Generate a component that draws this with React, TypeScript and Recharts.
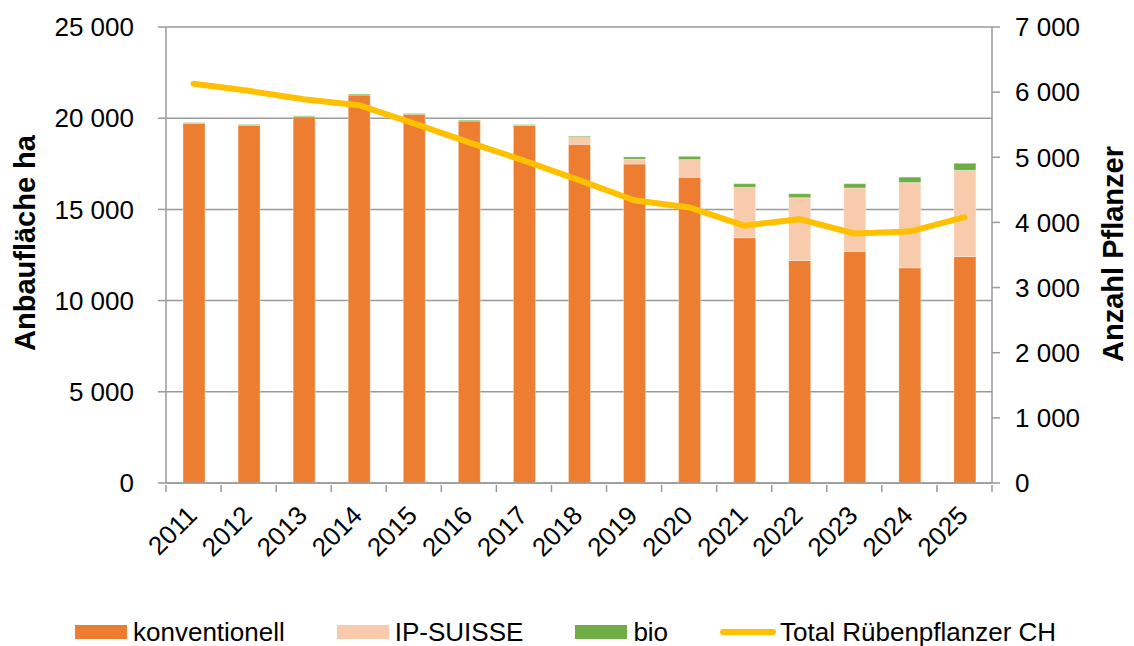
import React from "react";
import {
  ComposedChart,
  Bar,
  Line,
  XAxis,
  YAxis,
  CartesianGrid,
} from "recharts";

// Anbaufläche Zuckerrüben CH (ha) und Anzahl Pflanzer
const years = ["2011", "2012", "2013", "2014", "2015", "2016", "2017", "2018", "2019", "2020", "2021", "2022", "2023", "2024", "2025"];
const konventionell = [19710, 19600, 20080, 21270, 20210, 19840, 19600, 18570, 17490, 16760, 13450, 12200, 12690, 11800, 12420];
const ipSuisse = [0, 0, 0, 0, 0, 0, 0, 370, 260, 970, 2760, 3440, 3480, 4670, 4720];
const bio = [50, 50, 50, 50, 50, 50, 50, 70, 130, 180, 200, 220, 240, 300, 390];
const pflanzer = [6130, 6020, 5890, 5800, 5520, 5230, 4950, 4650, 4340, 4230, 3950, 4050, 3830, 3860, 4080];

const leftTicks = [0, 5000, 10000, 15000, 20000, 25000];
const rightTicks = [0, 1000, 2000, 3000, 4000, 5000, 6000, 7000];

const COLORS = {
  konv: "#ED7D31",
  ip: "#F8CBAD",
  bio: "#70AD47",
  line: "#FFC000",
  axis: "#9a9a9a",
};

const FONT = "'Liberation Sans', Arial, sans-serif";
const W = 1134;
const H = 646;
const LEFT_W = 166;
const RIGHT_W = 142;
const STEP = (W - LEFT_W - RIGHT_W) / years.length;

const data = years.map((y, i) => ({
  year: y,
  konv: konventionell[i],
  ip: ipSuisse[i],
  bio: bio[i],
  total: pflanzer[i],
}));

// Tausender mit Leerzeichen: 25 000
const fmt = (v: number) => String(v).replace(/\B(?=(\d{3})+(?!\d))/g, " ");

function YearTick({ x, y, payload, index }: any) {
  const last = index === years.length - 1;
  return (
    <g>
      <line x1={x - STEP / 2} y1={y} x2={x - STEP / 2} y2={y + 7} stroke={COLORS.axis} strokeWidth={1.5} />
      {last && <line x1={x + STEP / 2} y1={y} x2={x + STEP / 2} y2={y + 7} stroke={COLORS.axis} strokeWidth={1.5} />}
      <text
        x={x + 5}
        y={y + 32}
        transform={`rotate(-45, ${x + 5}, ${y + 32})`}
        textAnchor="end"
        fontSize={26}
        fontFamily={FONT}
        fill="#000"
      >
        {payload.value}
      </text>
    </g>
  );
}

const legendItems = [
  { label: "konventionell", color: COLORS.konv, type: "box" },
  { label: "IP-SUISSE", color: COLORS.ip, type: "box" },
  { label: "bio", color: COLORS.bio, type: "box" },
  { label: "Total Rübenpflanzer CH", color: COLORS.line, type: "line" },
];

export default function App() {
  return (
    <div style={{ position: "absolute", left: 0, top: 0, width: W, height: H, background: "#fff", fontFamily: FONT }}>
      <ComposedChart
        width={W}
        height={H}
        data={data}
        margin={{ top: 27, right: 0, bottom: 0, left: 0 }}
        barSize={22}
      >
        <CartesianGrid yAxisId="left" vertical={false} stroke={COLORS.axis} strokeWidth={1.5} />
        <XAxis
          dataKey="year"
          height={163}
          axisLine={{ stroke: COLORS.axis, strokeWidth: 1.5 }}
          tickLine={false}
          tickSize={0}
          tick={<YearTick />}
          interval={0}
        />
        <YAxis
          yAxisId="left"
          width={LEFT_W}
          domain={[0, 25000]}
          ticks={leftTicks}
          tickFormatter={fmt}
          axisLine={{ stroke: COLORS.axis, strokeWidth: 1.5 }}
          tickLine={{ stroke: COLORS.axis, strokeWidth: 1.5 }}
          tickSize={8}
          tickMargin={24}
          tick={{ fill: "#000", fontSize: 26, fontFamily: FONT }}
          label={() => (
            <text
              x={35}
              y={243}
              transform="rotate(-90, 35, 243)"
              textAnchor="middle"
              fontSize={29}
              fontWeight="bold"
              fontFamily={FONT}
              fill="#000"
            >
              Anbaufläche ha
            </text>
          )}
        />
        <YAxis
          yAxisId="right"
          orientation="right"
          width={RIGHT_W}
          domain={[0, 7000]}
          ticks={rightTicks}
          tickFormatter={fmt}
          axisLine={{ stroke: COLORS.axis, strokeWidth: 1.5 }}
          tickLine={{ stroke: COLORS.axis, strokeWidth: 1.5 }}
          tickSize={8}
          tickMargin={15}
          tick={{ fill: "#000", fontSize: 26, fontFamily: FONT }}
          label={() => (
            <text
              x={1123}
              y={254}
              transform="rotate(-90, 1123, 254)"
              textAnchor="middle"
              fontSize={29}
              fontWeight="bold"
              fontFamily={FONT}
              fill="#000"
            >
              Anzahl Pflanzer
            </text>
          )}
        />
        <Bar yAxisId="left" dataKey="konv" stackId="a" fill={COLORS.konv} stroke="#fff" strokeOpacity={0.35} isAnimationActive={false} />
        <Bar yAxisId="left" dataKey="ip" stackId="a" fill={COLORS.ip} stroke="#fff" strokeOpacity={0.35} isAnimationActive={false} />
        <Bar yAxisId="left" dataKey="bio" stackId="a" fill={COLORS.bio} stroke="#fff" strokeOpacity={0.35} isAnimationActive={false} />
        <Line
          yAxisId="right"
          type="linear"
          dataKey="total"
          stroke={COLORS.line}
          strokeWidth={6}
          strokeLinecap="round"
          strokeLinejoin="round"
          dot={false}
          activeDot={false}
          isAnimationActive={false}
        />
      </ComposedChart>

      {/* Legende */}
      <div style={{ position: "absolute", left: 75, top: 620, height: 24, display: "flex", alignItems: "center", gap: 52, fontSize: 26, color: "#000", lineHeight: "24px", whiteSpace: "nowrap" }}>
        {legendItems.map((it) => (
          <div key={it.label} style={{ display: "flex", alignItems: "center" }}>
            {it.type === "box" ? (
              <div style={{ width: 52, height: 14, background: it.color, marginRight: 6 }} />
            ) : (
              <div style={{ width: 56, height: 6, borderRadius: 3, background: it.color, marginRight: 4 }} />
            )}
            <span>{it.label}</span>
          </div>
        ))}
      </div>
    </div>
  );
}
